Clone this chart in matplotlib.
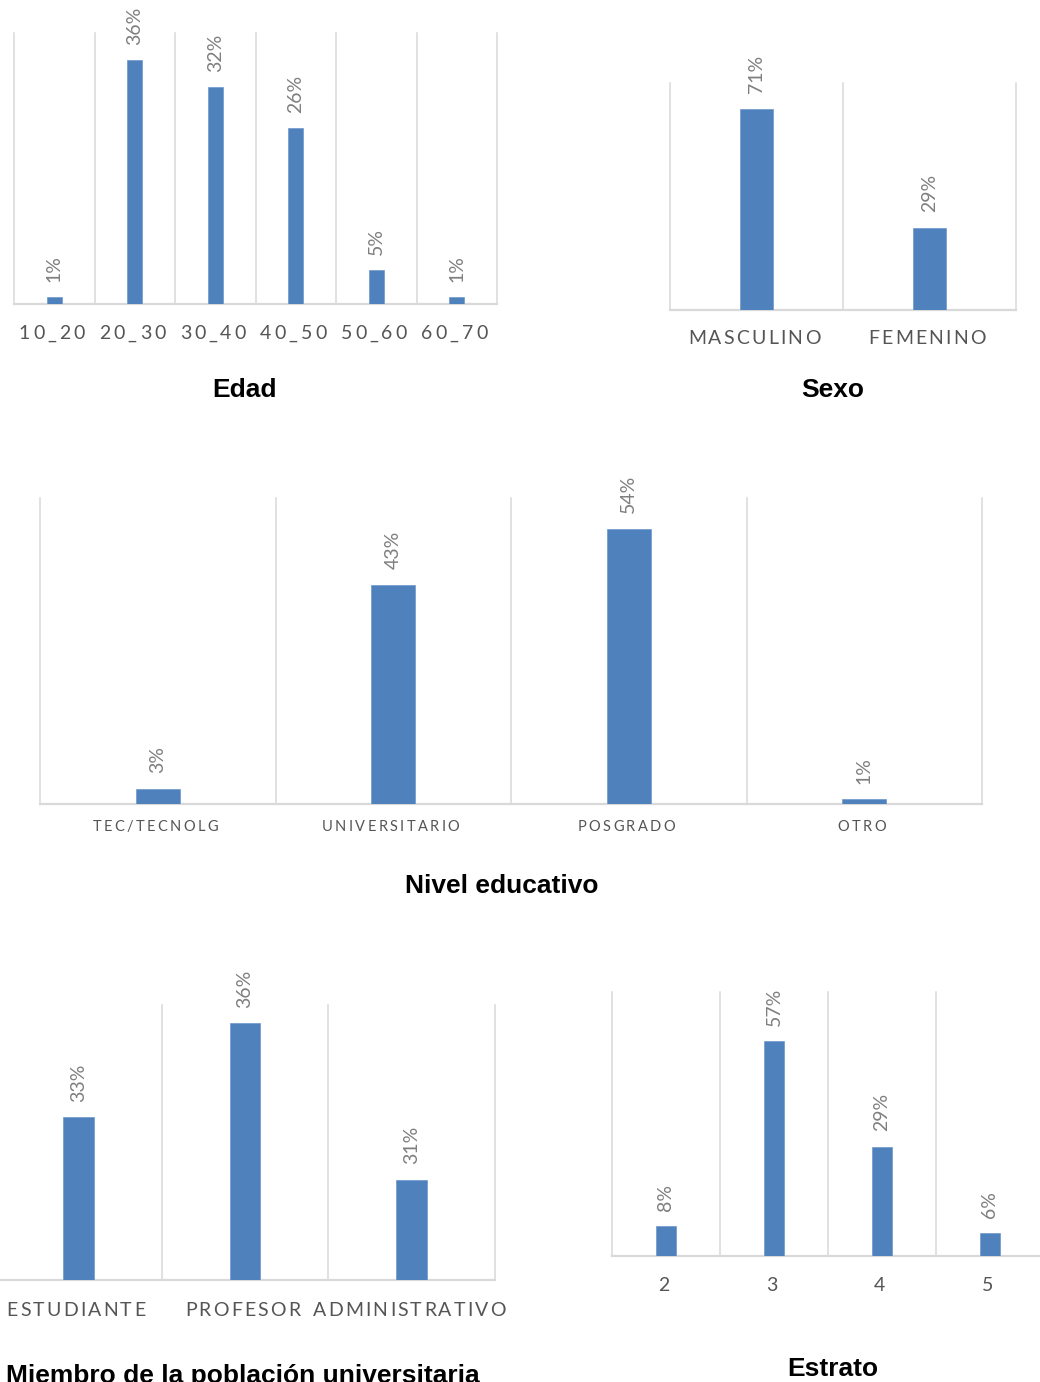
import matplotlib
matplotlib.use("Agg")
import matplotlib.pyplot as plt
from matplotlib import transforms
from matplotlib.font_manager import FontProperties, findfont, get_font

try:
    from matplotlib.ft2font import LoadFlags
    NO_HINT = LoadFlags.NO_HINTING
except ImportError:  # older matplotlib
    from matplotlib.ft2font import LOAD_NO_HINTING as NO_HINT

# ---- data -----------------------------------------------------------------
edad_cats = ["10_20", "20_30", "30_40", "40_50", "50_60", "60_70"]
edad_vals = [1, 36, 32, 26, 5, 1]

sexo_cats = ["MASCULINO", "FEMENINO"]
sexo_vals = [71, 29]

nivel_cats = ["TEC/TECNOLG", "UNIVERSITARIO", "POSGRADO", "OTRO"]
nivel_vals = [3, 43, 54, 1]

miembro_cats = ["ESTUDIANTE", "PROFESOR", "ADMINISTRATIVO"]
miembro_vals = [33, 36, 31]

estrato_cats = ["2", "3", "4", "5"]
estrato_vals = [8, 57, 29, 6]

# ---- style ----------------------------------------------------------------
W, H, DPI = 1040, 1382, 100
BAR = "#4f81bd"
GRID = "#d9d9d9"
LABEL_C = "#7f7f7f"
TICK_C = "#555555"
BODY_FONT = ["Lato", "DejaVu Sans"]
TITLE_FONT = ["Liberation Sans", "DejaVu Sans"]

fig = plt.figure(figsize=(W / DPI, H / DPI), dpi=DPI)
fig.patch.set_facecolor("white")


def char_advance_pt(ch, size_pt):
    """Horizontal advance of one glyph, in points."""
    fp = FontProperties(family=BODY_FONT[0])
    font = get_font(findfont(fp))
    font.set_size(size_pt, 72)
    g = font.load_char(ord(ch), flags=NO_HINT)
    return g.linearHoriAdvance / 65536.0


def spaced_label(ax, xpos, text, size_pt, spacing_px, drop_px, nudge_px=-2.5):
    """Draw a category label with extra letter spacing, centred on xpos."""
    spacing_pt = spacing_px * 72.0 / DPI
    advs = [char_advance_pt(c, size_pt) for c in text]
    total = sum(advs) + spacing_pt * (len(text) - 1)
    base = transforms.blended_transform_factory(ax.transData, ax.transAxes)
    cursor = -total / 2.0 + nudge_px * 72.0 / DPI
    for ch, a in zip(text, advs):
        tr = base + transforms.ScaledTranslation(cursor / 72.0, -drop_px / DPI,
                                                 fig.dpi_scale_trans)
        ax.text(xpos, 0, ch, transform=tr, ha="left", va="baseline",
                fontsize=size_pt, color=TICK_C, family=BODY_FONT,
                clip_on=False)
        cursor += a + spacing_pt


def panel(box, cats, vals, ylim, tick_size, tick_spacing, tick_drop,
          title, title_pos):
    x0, x1, ytop, ybase = box
    ax = fig.add_axes([x0 / W, 1 - ybase / H, (x1 - x0) / W, (ybase - ytop) / H])
    n = len(cats)
    ax.set_xlim(-0.5, n - 0.5)
    ax.set_ylim(*ylim)
    for s in ax.spines.values():
        s.set_visible(False)
    ax.set_xticks([])
    ax.set_yticks([])
    ax.patch.set_alpha(0)

    # vertical category gridlines and baseline
    for k in range(n + 1):
        ax.axvline(k - 0.5, color=GRID, lw=1.1, zorder=0, clip_on=False)
    ax.axhline(ylim[0], color=GRID, lw=1.6, zorder=1, clip_on=False)

    ax.bar(range(n), vals, width=0.185, color=BAR, zorder=2,
           edgecolor="#6f98cc", linewidth=0.5)

    for i, v in enumerate(vals):
        ax.annotate(f"{v}%", (i, v), xytext=(0, 11), textcoords="offset points",
                    rotation=90, ha="center", va="bottom", fontsize=14,
                    color=LABEL_C, family=BODY_FONT, annotation_clip=False)

    for i, c in enumerate(cats):
        spaced_label(ax, i, c, tick_size, tick_spacing, tick_drop)

    fig.text(title_pos[0] / W, 1 - title_pos[1] / H, title, ha="center",
             va="baseline", fontsize=19, fontweight="bold", family=TITLE_FONT,
             color="black")
    return ax


panel((14, 497, 33, 304), edad_cats, edad_vals, (0, 40),
      14, 3.0, 35, "Edad", (244, 397))
panel((670, 1016, 83, 310), sexo_cats, sexo_vals, (0, 80),
      14, 2.2, 34, "Sexo", (833, 397))
panel((40, 982, 498, 804), nivel_cats, nivel_vals, (0, 60),
      10.5, 2.4, 27, "Nivel educativo", (502, 893))
panel((-5, 495, 1005, 1280), miembro_cats, miembro_vals, (27.8, 36.57),
      14, 2.2, 36, "Miembro de la población universitaria", (243, 1383))
panel((612, 1044, 992, 1256), estrato_cats, estrato_vals, (0, 70),
      14, 0, 35, "Estrato", (833, 1376))

fig.savefig("out.png", dpi=DPI, facecolor="white")
